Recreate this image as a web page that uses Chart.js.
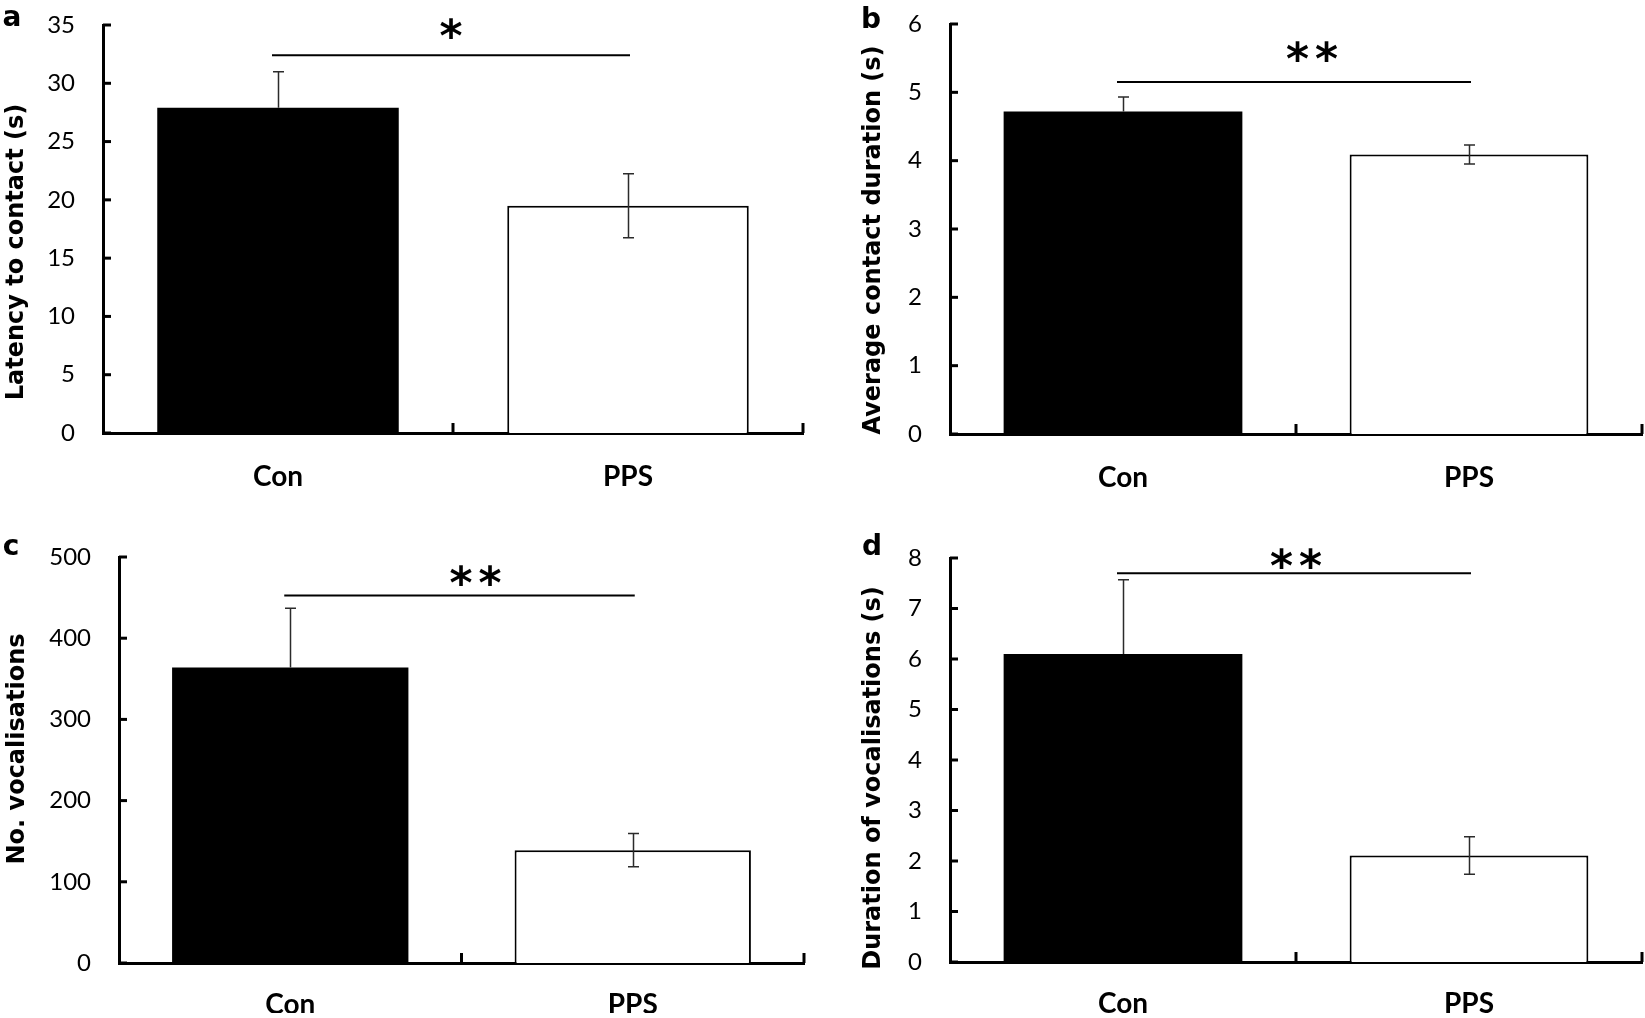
<!DOCTYPE html>
<html>
<head>
<meta charset="utf-8">
<script src="https://cdn.jsdelivr.net/npm/chart.js@4.4.1/dist/chart.umd.min.js"></script>
<style>
  html, body { margin: 0; padding: 0; background: #ffffff; }
  body { width: 1645px; height: 1018px; position: relative; overflow: hidden; }
  .panel { position: absolute; }
</style>
</head>
<body>
<div class="panel" style="left:0px;top:0px;width:822px;height:509px"><canvas id="ca" width="822" height="509"></canvas></div>
<div class="panel" style="left:822px;top:0px;width:823px;height:509px"><canvas id="cb" width="823" height="509"></canvas></div>
<div class="panel" style="left:0px;top:509px;width:822px;height:509px"><canvas id="cc" width="822" height="509"></canvas></div>
<div class="panel" style="left:822px;top:509px;width:823px;height:509px"><canvas id="cd" width="823" height="509"></canvas></div>
<script>
// ---------------- data ----------------
const groups = ['Con', 'PPS'];

const latencyMeans = [27.9, 19.5];
const latencyErrors = [3.1, 2.75];

const contactMeans = [4.72, 4.09];
const contactErrors = [0.21, 0.14];

const vocalCountMeans = [364, 139];
const vocalCountErrors = [73, 20.5];

const vocalDurMeans = [6.1, 2.11];
const vocalDurErrors = [1.47, 0.37];

const yMaxima = [35, 6, 500, 8];
const yStepSizes = [5, 1, 100, 1];

const sigLevels = [32.4, 5.15, 452.5, 7.7];
const sigMarks = ['*', '**', '**', '**'];

const yTitles = ['Latency to contact (s)', 'Average contact duration (s)', 'No. vocalisations', 'Duration of vocalisations (s)'];
const panelLetters = ['a', 'b', 'c', 'd'];

// ---------------- drawing helpers ----------------
const TITLE_FONT = 'bold 24px "DejaVu Sans"';
const LETTER_FONT = 'bold 28px "DejaVu Sans"';
const STAR_FONT = 'bold 44px "DejaVu Sans"';
const BAR_FILLS = ['#000000', '#ffffff'];
const LOWER_WHISKER_VISIBLE = [false, true];

const decor = {
  id: 'decor',
  afterDatasetsDraw(chart, args, o) {
    const ctx = chart.ctx, ys = chart.scales.y;
    const meta = chart.getDatasetMeta(0);
    const vals = chart.data.datasets[0].data;
    ctx.save();
    ctx.strokeStyle = '#2b2b2b';
    ctx.lineWidth = 1.5;
    meta.data.forEach((bar, i) => {
      const v = vals[i], e = o.errors[i];
      const px = Math.round(bar.x) + 0.5;
      const top = ys.getPixelForValue(v + e);
      const mid = ys.getPixelForValue(v);
      const bot = ys.getPixelForValue(v - e);
      ctx.beginPath();
      ctx.moveTo(px, top); ctx.lineTo(px, mid);
      ctx.moveTo(px - 5.5, top); ctx.lineTo(px + 5.5, top);
      if (LOWER_WHISKER_VISIBLE[i]) {
        ctx.moveTo(px, mid); ctx.lineTo(px, bot);
        ctx.moveTo(px - 5.5, bot); ctx.lineTo(px + 5.5, bot);
      }
      ctx.stroke();
    });
    ctx.restore();
  },
  afterDraw(chart, args, o) {
    const ctx = chart.ctx, xs = chart.scales.x, ys = chart.scales.y, ca = chart.chartArea;
    ctx.save();
    ctx.strokeStyle = '#000';
    ctx.fillStyle = '#000';
    // inward y ticks
    ctx.lineWidth = 3;
    ys.ticks.forEach(t => {
      const py = ys.getPixelForValue(t.value);
      ctx.beginPath(); ctx.moveTo(ca.left, py); ctx.lineTo(ca.left + 8, py); ctx.stroke();
    });
    // inward x ticks at category boundaries
    for (let i = 1; i <= chart.data.labels.length; i++) {
      const px = xs.getPixelForValue(i - 0.5);
      ctx.beginPath(); ctx.moveTo(px, ca.bottom); ctx.lineTo(px, ca.bottom - 10); ctx.stroke();
    }
    // significance line
    const meta = chart.getDatasetMeta(0);
    const x0 = meta.data[0].x, x1 = meta.data[meta.data.length - 1].x;
    const sy = ys.getPixelForValue(o.sigLevel);
    ctx.lineWidth = 2;
    ctx.beginPath(); ctx.moveTo(x0 - 6, sy); ctx.lineTo(x1 + 2, sy); ctx.stroke();
    // stars
    ctx.font = STAR_FONT;
    ctx.textAlign = 'center';
    ctx.textBaseline = 'middle';
    ctx.letterSpacing = o.starSpacing + 'px';
    ctx.fillText(o.mark, (x0 + x1) / 2 + o.starDx, sy - o.starDy + 8);
    ctx.letterSpacing = '0px';
    // y-axis title
    ctx.save();
    ctx.font = TITLE_FONT;
    ctx.textAlign = 'center';
    ctx.textBaseline = 'middle';
    ctx.translate(o.titleX, o.titleY);
    ctx.rotate(-Math.PI / 2);
    ctx.fillText(o.title, 0, 0);
    ctx.restore();
    // panel letter
    ctx.font = LETTER_FONT;
    ctx.textAlign = 'center';
    ctx.textBaseline = 'alphabetic';
    ctx.fillText(o.letter, o.letterX, o.letterY);
    ctx.restore();
  }
};

function makePanel(id, idx, means, errors, geom) {
  const ctx = document.getElementById(id);
  return new Chart(ctx, {
    type: 'bar',
    data: {
      labels: groups,
      datasets: [{
        data: means,
        backgroundColor: BAR_FILLS,
        borderColor: '#000000',
        borderWidth: [0, 2],
        barPercentage: 0.69,
        categoryPercentage: 1.0
      }]
    },
    options: {
      responsive: false,
      animation: false,
      devicePixelRatio: 1,
      layout: { padding: { left: 0, right: geom.padRight, top: geom.padTop, bottom: geom.padBottom } },
      plugins: {
        legend: { display: false },
        tooltip: { enabled: false },
        decor: {
          errors: errors,
          sigLevel: sigLevels[idx],
          mark: sigMarks[idx],
          starDx: geom.starDx,
          starDy: geom.starDy,
          starSpacing: geom.starSpacing,
          title: yTitles[idx],
          titleX: geom.titleX,
          titleY: geom.titleY,
          letter: panelLetters[idx],
          letterX: geom.letterX,
          letterY: geom.letterY
        }
      },
      scales: {
        x: {
          offset: true,
          grid: { display: false, drawTicks: false },
          border: { display: true, color: '#000', width: 3 },
          ticks: { color: '#000', padding: geom.xPad, font: { family: 'Lato', weight: 'bold', size: 28, lineHeight: 1 } },
          afterFit: s => { s.height = geom.xHeight; s.paddingLeft = 0; s.paddingRight = 0; }
        },
        y: {
          min: 0,
          max: yMaxima[idx],
          grid: { display: false, drawTicks: false },
          border: { display: true, color: '#000', width: 3 },
          ticks: { stepSize: yStepSizes[idx], color: '#000', padding: 28, font: { family: 'Lato', size: 24, lineHeight: 1 } },
          afterFit: s => { s.width = geom.yWidth; s.paddingTop = 0; s.paddingBottom = 0; }
        }
      }
    },
    plugins: [decor]
  });
}

makePanel('ca', 0, latencyMeans, latencyErrors, {
  yWidth: 103, padRight: 19, padTop: 25, padBottom: 16, xHeight: 60, xPad: 30,
  starDx: -2, starDy: 24, starSpacing: 0,
  titleX: 17, titleY: 252, letterX: 12, letterY: 26
});
makePanel('cb', 1, contactMeans, contactErrors, {
  yWidth: 128, padRight: 3, padTop: 24, padBottom: 15, xHeight: 60, xPad: 30,
  starDx: 19, starDy: 28, starSpacing: 6,
  titleX: 52, titleY: 240, letterX: 49, letterY: 28
});
makePanel('cc', 2, vocalCountMeans, vocalCountErrors, {
  yWidth: 119, padRight: 18, padTop: 48, padBottom: 5, xHeight: 50, xPad: 28,
  starDx: 17, starDy: 17.5, starSpacing: 6,
  titleX: 18, titleY: 240, letterX: 11, letterY: 46
});
makePanel('cd', 3, vocalDurMeans, vocalDurErrors, {
  yWidth: 128, padRight: 3, padTop: 49, padBottom: 5, xHeight: 51, xPad: 28,
  starDx: 3, starDy: 12, starSpacing: 6,
  titleX: 52, titleY: 269, letterX: 50, letterY: 46
});
</script>
</body>
</html>
